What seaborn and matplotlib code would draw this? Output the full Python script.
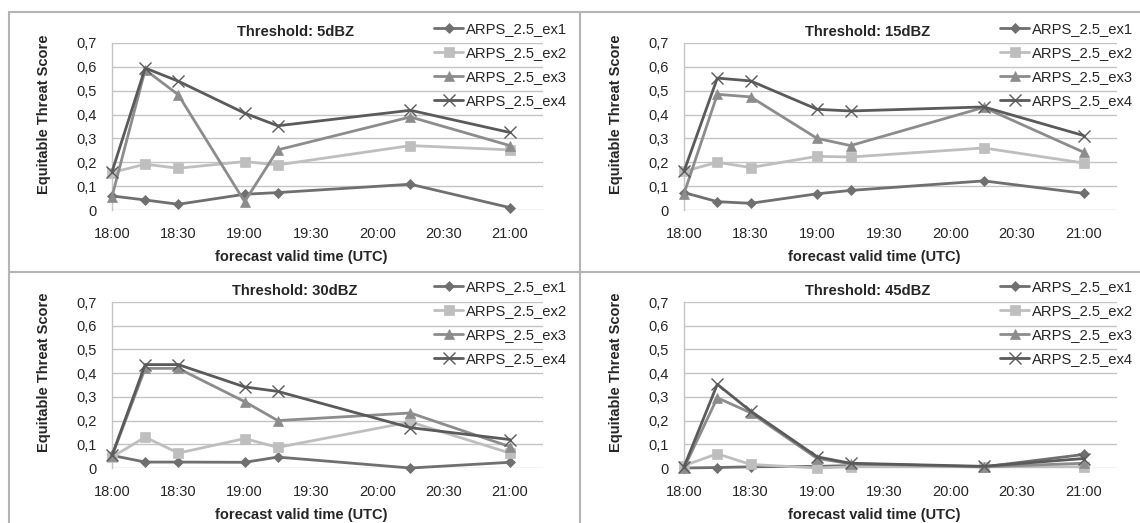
import numpy as np
import pandas as pd
import matplotlib
matplotlib.use('Agg')
import matplotlib.pyplot as plt
from matplotlib.lines import Line2D
import seaborn as sns

# minutes after 18:00 UTC
times = [0, 15, 30, 60, 75, 135, 180]
tick_pos = [0, 30, 60, 90, 120, 150, 180]
tick_labels = ['18:00', '18:30', '19:00', '19:30', '20:00', '20:30', '21:00']
y_ticks = [0, 0.1, 0.2, 0.3, 0.4, 0.5, 0.6, 0.7]
y_labels = ['0', '0,1', '0,2', '0,3', '0,4', '0,5', '0,6', '0,7']

runs = ['ARPS_2.5_ex1', 'ARPS_2.5_ex2', 'ARPS_2.5_ex3', 'ARPS_2.5_ex4']
titles = ['Threshold: 5dBZ', 'Threshold: 15dBZ', 'Threshold: 30dBZ', 'Threshold: 45dBZ']

ets_5 = [
    [0.059, 0.042, 0.024, 0.066, 0.073, 0.108, 0.010],
    [0.157, 0.192, 0.175, 0.203, 0.189, 0.270, 0.252],
    [0.056, 0.588, 0.483, 0.035, 0.252, 0.390, 0.270],
    [0.160, 0.595, 0.540, 0.406, 0.353, 0.418, 0.325],
]
ets_15 = [
    [0.073, 0.035, 0.028, 0.068, 0.082, 0.122, 0.070],
    [0.162, 0.200, 0.178, 0.225, 0.222, 0.260, 0.197],
    [0.068, 0.485, 0.474, 0.300, 0.270, 0.430, 0.242],
    [0.162, 0.553, 0.541, 0.422, 0.415, 0.432, 0.312],
]
ets_30 = [
    [0.053, 0.025, 0.025, 0.024, 0.046, 0.000, 0.024],
    [0.046, 0.130, 0.063, 0.124, 0.087, 0.194, 0.063],
    [0.050, 0.420, 0.420, 0.280, 0.200, 0.232, 0.090],
    [0.053, 0.436, 0.436, 0.342, 0.323, 0.170, 0.120],
]
ets_45 = [
    [0.000, 0.002, 0.005, 0.007, 0.010, 0.005, 0.057],
    [0.010, 0.060, 0.015, 0.000, 0.005, 0.005, 0.005],
    [0.000, 0.296, 0.233, 0.040, 0.018, 0.005, 0.020],
    [0.005, 0.353, 0.240, 0.047, 0.020, 0.007, 0.040],
]
panels = [ets_5, ets_15, ets_30, ets_45]

colors = ['#6f6f6f', '#bebebe', '#8c8c8c', '#5a5a5a']
markers = ['D', 's', '^', 'x']
msizes = [5.5, 7.5, 7.5, 8]

sns.set_style('white')
plt.rcParams['font.family'] = ['Liberation Sans', 'DejaVu Sans']

W, H = 1140, 523
fig = plt.figure(figsize=(W / 100, H / 100), dpi=100)

# axes rectangles in pixels: left, top(0.7), right, bottom(0)
boxes = [(112, 43, 543, 210), (684, 43, 1117, 210),
         (112, 302, 543, 468), (684, 302, 1117, 468)]
legend_xy = [(434, 22), (1000, 22), (434, 280), (1000, 280)]

for k, (l, t, r, b) in enumerate(boxes):
    ax = fig.add_axes([l / W, 1 - b / H, (r - l) / W, (b - t) / H])
    for i, run in enumerate(runs):
        df = pd.DataFrame({'time': times, 'ets': panels[k][i]})
        sns.lineplot(data=df, x='time', y='ets', ax=ax, color=colors[i],
                     marker=markers[i], markersize=msizes[i], lw=2.0,
                     markeredgecolor=colors[i],
                     markeredgewidth=1.0 if markers[i] == 'x' else 0.5,
                     label=run, clip_on=False, zorder=3)
    ax.set_xlim(0, 195)
    ax.set_ylim(0, 0.7)
    ax.set_xticks(tick_pos)
    ax.set_xticklabels(tick_labels, fontsize=10.5)
    ax.set_yticks(y_ticks)
    ax.set_yticklabels(y_labels, fontsize=10.5)
    ax.tick_params(axis='both', length=0)
    ax.tick_params(axis='x', pad=12)
    ax.tick_params(axis='y', pad=11)
    ax.grid(axis='y', color='#c4c4c4', lw=1.0)
    ax.set_axisbelow(True)
    for s in ['top', 'right', 'bottom']:
        ax.spines[s].set_visible(False)
    ax.spines['left'].set_color('#c4c4c4')
    ax.spines['left'].set_linewidth(1.0)

    ax.set_title(titles[k], x=0.425, y=1 + 11 / (b - t), va='center', pad=0,
                 fontsize=10.6, fontweight='bold')
    ax.set_xlabel('forecast valid time (UTC)', fontsize=10.5, fontweight='bold')
    ax.xaxis.set_label_coords(0.44, -(40 / (b - t)))
    ax.set_ylabel('Equitable Threat Score', fontsize=10.5, fontweight='bold')
    ax.yaxis.set_label_coords(-61 / (r - l), 0.575)

    lx, ly = legend_xy[k]
    ax.legend(loc='upper left', bbox_to_anchor=(lx / W, 1 - ly / H),
              bbox_transform=fig.transFigure, frameon=False, fontsize=10.6,
              borderaxespad=0, borderpad=0, handlelength=2.0,
              handletextpad=0.2, labelspacing=0.68)

# panel frame lines
frame_c = '#b4b4b4'
fig.add_artist(Line2D([9 / W, 1], [1 - 12 / H, 1 - 12 / H], color=frame_c, lw=1.5))
fig.add_artist(Line2D([9 / W, 1], [1 - 272 / H, 1 - 272 / H], color=frame_c, lw=1.5))
fig.add_artist(Line2D([9 / W, 9 / W], [0, 1 - 12 / H], color=frame_c, lw=1.5))
fig.add_artist(Line2D([580 / W, 580 / W], [0, 1 - 12 / H], color=frame_c, lw=1.5))

fig.savefig('out.png', dpi=100)
